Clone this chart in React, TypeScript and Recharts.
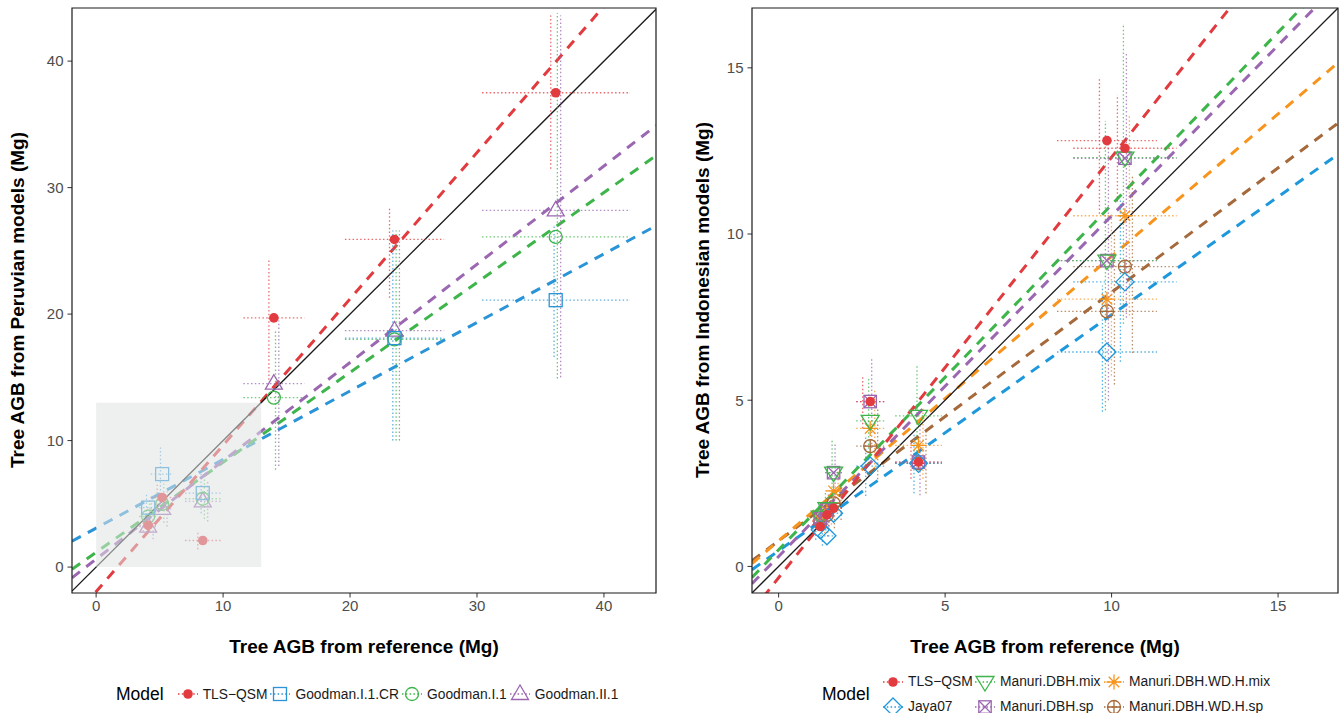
import React from 'react';
import { ComposedChart, Scatter, Line, XAxis, YAxis, ErrorBar, ReferenceArea } from 'recharts';

type Kind = 'dot' | 'square' | 'circle' | 'triangle' | 'diamond' | 'tridown' | 'squarex' | 'star' | 'circleplus';

// ---- Peruvian trees (left panel) ----
const peruRef = [4.1, 5.2, 8.4, 14.0, 23.5, 36.2];
const peruRefErr = [0.7, 0.9, 1.4, 2.4, 3.9, 5.8];

const peruTls = [3.3, 5.5, 2.1, 19.7, 25.9, 37.5];
const peruTlsErr = [[0.5, 0.6], [0.9, 1.0], [0.7, 0.7], [4.9, 4.7], [4.6, 2.5], [6.0, 6.1]];
const peruGoodmanCR = [4.7, 7.35, 5.85, null, 18.1, 21.1];
const peruGoodmanCRErr = [[1.2, 1.2], [2.2, 2.1], [1.6, 1.6], null, [8.1, 8.5], [4.5, 5.9]];
const peruGoodmanI1 = [4.0, 5.0, 5.4, 13.4, 18.0, 26.1];
const peruGoodmanI1Err = [[1.2, 1.3], [1.5, 1.6], [1.6, 1.7], [5.7, 5.3], [8.0, 8.6], [11.2, 17.7]];
const peruGoodmanII1 = [3.2, 4.6, 5.2, 14.5, 18.7, 28.2];
const peruGoodmanII1Err = [[1.0, 1.0], [1.4, 1.4], [1.6, 1.6], [6.5, 5.0], [8.7, 7.9], [13.2, 15.4]];

const peruNames = ['TLS−QSM', 'Goodman.I.1.CR', 'Goodman.I.1', 'Goodman.II.1'];
const peruColors = ['#E23B3F', '#2A94D6', '#3DB54A', '#9B67B1'];
const peruKinds: Kind[] = ['dot', 'square', 'circle', 'triangle'];
const peruIntercepts = [-1.94, 3.08, 1.17, 0.63];
const peruSlopes = [1.157, 0.542, 0.711, 0.777];
const peruTicks = [0, 10, 20, 30, 40];

// ---- Indonesian trees (right panel) ----
const indoRef = [1.25, 1.45, 1.65, 2.75, 4.2, 9.86, 10.4];
const indoRefErr = [0.2, 0.2, 0.25, 0.42, 0.7, 1.5, 1.55];

const indoTls = [1.2, 1.55, 1.75, 4.96, 3.14, 12.81, 12.58];
const indoTlsErr = [[0.2, 0.2], [0.2, 0.2], [0.3, 0.3], [0.8, 0.8], [0.5, 0.6], [2.2, 1.9], [1.6, 1.6]];
const indoJaya = [1.1, 0.92, 1.6, 3.02, 3.1, 6.45, 8.56];
const indoJayaErr = [[0.3, 0.3], [0.3, 0.3], [0.4, 0.4], [0.9, 0.9], [0.9, 0.9], [1.8, 2.0], [2.4, 2.5]];
const indoDbhMix = [1.5, 1.75, 2.82, 4.38, 4.53, 9.2, 12.3];
const indoDbhMixErr = [[0.4, 0.5], [0.5, 0.5], [0.8, 1.0], [1.3, 1.3], [1.3, 1.5], [4.5, 4.2], [5.0, 4.0]];
const indoDbhSp = [1.45, 1.7, 2.82, 4.96, 3.14, 9.2, 12.28];
const indoDbhSpErr = [[0.4, 0.5], [0.5, 0.5], [0.8, 0.9], [1.4, 1.3], [1.0, 1.2], [4.2, 3.8], [4.8, 3.2]];
const indoWdhMix = [1.4, 1.65, 2.27, 4.15, 3.64, 8.04, 10.55];
const indoWdhMixErr = [[0.4, 0.4], [0.4, 0.5], [0.6, 0.7], [1.2, 1.2], [1.0, 1.1], [2.3, 2.6], [3.0, 3.0]];
const indoWdhSp = [1.3, 1.55, 1.9, 3.62, 3.1, 7.67, 9.02];
const indoWdhSpErr = [[0.4, 0.4], [0.4, 0.4], [0.5, 0.6], [1.0, 1.1], [0.9, 1.0], [2.2, 2.4], [2.6, 2.7]];

const indoNames = ['TLS−QSM', 'Jaya07', 'Manuri.DBH.mix', 'Manuri.DBH.sp', 'Manuri.DBH.WD.H.mix', 'Manuri.DBH.WD.H.sp'];
const indoColors = ['#E23B3F', '#1E98DC', '#3DB54A', '#9B67B1', '#F7941D', '#A6693B'];
const indoKinds: Kind[] = ['dot', 'diamond', 'tridown', 'squarex', 'star', 'circleplus'];
const indoIntercepts = [-0.34, 0.47, 0.5, 0.3, 0.77, 0.77];
const indoSlopes = [1.265, 0.71, 1.038, 1.025, 0.856, 0.748];
const indoTicks = [0, 5, 10, 15];

const FONT = '"Liberation Sans", Arial, sans-serif';
const DOT_DASH = '1.5 2.3';

function Marker({ kind, cx, cy, color }: { kind: Kind; cx: number; cy: number; color: string }) {
  const st = { fill: 'none', stroke: color, strokeWidth: 1.3 };
  switch (kind) {
    case 'dot':
      return <circle cx={cx} cy={cy} r={4.8} fill={color} />;
    case 'square':
      return <rect x={cx - 6.5} y={cy - 6.5} width={13} height={13} {...st} />;
    case 'circle':
      return <circle cx={cx} cy={cy} r={6.5} {...st} />;
    case 'triangle':
      return <polygon points={`${cx},${cy - 9} ${cx - 8.5},${cy + 5.5} ${cx + 8.5},${cy + 5.5}`} {...st} />;
    case 'tridown':
      return <polygon points={`${cx - 9},${cy - 5.5} ${cx + 9},${cy - 5.5} ${cx},${cy + 9}`} {...st} />;
    case 'diamond':
      return <polygon points={`${cx},${cy - 9} ${cx + 9},${cy} ${cx},${cy + 9} ${cx - 9},${cy}`} {...st} />;
    case 'squarex': {
      const h = 6.2;
      return (
        <g {...st}>
          <rect x={cx - h} y={cy - h} width={2 * h} height={2 * h} />
          <path d={`M${cx - h},${cy - h}L${cx + h},${cy + h}M${cx - h},${cy + h}L${cx + h},${cy - h}`} />
        </g>
      );
    }
    case 'star': {
      const r = 7.5;
      const d = 5.3;
      return (
        <path
          d={`M${cx - r},${cy}H${cx + r}M${cx},${cy - r}V${cy + r}M${cx - d},${cy - d}L${cx + d},${cy + d}M${cx - d},${cy + d}L${cx + d},${cy - d}`}
          {...st}
        />
      );
    }
    case 'circleplus': {
      const r = 6.5;
      return (
        <g {...st}>
          <circle cx={cx} cy={cy} r={r} />
          <path d={`M${cx - r},${cy}H${cx + r}M${cx},${cy - r}V${cy + r}`} />
        </g>
      );
    }
  }
  return null;
}

interface Series {
  name: string;
  color: string;
  kind: Kind;
  points: { x: number; y: number; ex: number; ey: number[] }[];
  a: number;
  b: number;
}

function buildSeries(ref: number[], refErr: number[], preds: (number | null)[][], errs: (number[] | null)[][],
  names: string[], colors: string[], kinds: Kind[], intercepts: number[], slopes: number[]): Series[] {
  return names.map((name, k) => ({
    name,
    color: colors[k],
    kind: kinds[k],
    a: intercepts[k],
    b: slopes[k],
    points: ref
      .map((x, i) => ({ x, y: preds[k][i] as number, ex: refErr[i], ey: errs[k][i] as number[] }))
      .filter((p) => p.y != null),
  }));
}

const peruSeries = buildSeries(
  peruRef, peruRefErr,
  [peruTls, peruGoodmanCR, peruGoodmanI1, peruGoodmanII1],
  [peruTlsErr, peruGoodmanCRErr, peruGoodmanI1Err, peruGoodmanII1Err],
  peruNames, peruColors, peruKinds, peruIntercepts, peruSlopes,
);

const indoSeries = buildSeries(
  indoRef, indoRefErr,
  [indoTls, indoJaya, indoDbhMix, indoDbhSp, indoWdhMix, indoWdhSp],
  [indoTlsErr, indoJayaErr, indoDbhMixErr, indoDbhSpErr, indoWdhMixErr, indoWdhSpErr],
  indoNames, indoColors, indoKinds, indoIntercepts, indoSlopes,
);

interface PanelProps {
  width: number;
  yWidth: number;
  marginRight: number;
  xDomain: number[];
  yDomain: number[];
  ticks: number[];
  series: Series[];
  lineOrder: number[];
  dodgePx: number;
  zoomBox?: number[];
}

function Panel({ width, yWidth, marginRight, xDomain, yDomain, ticks, series, lineOrder, dodgePx, zoomBox }: PanelProps) {
  const [x0, x1] = xDomain;
  const tickStyle = { fill: '#4D4D4D', fontSize: 15, fontFamily: FONT };
  // vertical error bars of the models are dodged sideways a few pixels, like position_dodge in the original
  const unit = (x1 - x0) / (width - yWidth - marginRight);
  const n = series.length;
  return (
    <ComposedChart width={width} height={640} margin={{ top: 8, right: marginRight, bottom: 0, left: 0 }}>
      <XAxis type="number" dataKey="x" domain={xDomain} ticks={ticks} interval={0} allowDataOverflow
        height={47} axisLine={false} tickSize={4.5} tickMargin={3} tickLine={{ stroke: '#333' }} tick={tickStyle} />
      <YAxis type="number" dataKey="y" domain={yDomain} ticks={ticks} interval={0} allowDataOverflow
        width={yWidth} axisLine={false} tickSize={4.5} tickMargin={4} tickLine={{ stroke: '#333' }} tick={tickStyle} />
      {lineOrder.map((k) => {
        const s = series[k];
        return (
          <Line key={'fit' + k} data={[{ x: x0, y: s.a + s.b * x0 }, { x: x1, y: s.a + s.b * x1 }]} dataKey="y"
            type="linear" stroke={s.color} strokeWidth={3} strokeDasharray="10 8" dot={false} activeDot={false}
            isAnimationActive={false} legendType="none" />
        );
      })}
      <Line data={[{ x: x0, y: x0 }, { x: x1, y: x1 }]} dataKey="y" type="linear" stroke="#1A1A1A" strokeWidth={1.3}
        dot={false} activeDot={false} isAnimationActive={false} />
      {series.map((s, k) => {
        const dx = (k - (n - 1) / 2) * dodgePx * unit;
        return (
          <Scatter key={'ey' + s.name} data={s.points.map((p) => ({ ...p, x: p.x + dx }))} isAnimationActive={false}
            legendType="none" shape={() => <g />}>
            <ErrorBar dataKey="ey" direction="y" width={0} stroke={s.color} strokeWidth={1.3} strokeOpacity={0.75}
              strokeDasharray={DOT_DASH} isAnimationActive={false} />
          </Scatter>
        );
      })}
      {series.slice().reverse().map((s) => (
        <Scatter key={s.name} name={s.name} data={s.points} isAnimationActive={false}
          shape={(p: any) => <Marker kind={s.kind} cx={p.cx} cy={p.cy} color={s.color} />}>
          <ErrorBar dataKey="ex" direction="x" width={0} stroke={s.color} strokeWidth={1.3} strokeOpacity={0.75}
            strokeDasharray={DOT_DASH} isAnimationActive={false} />
        </Scatter>
      ))}
      {zoomBox && (
        <ReferenceArea x1={zoomBox[0]} x2={zoomBox[1]} y1={zoomBox[0]} y2={zoomBox[1]} fill="#E0E4E4"
          fillOpacity={0.55} stroke="none" ifOverflow="visible" zIndex={1500} />
      )}
      <ReferenceArea x1={xDomain[0]} x2={xDomain[1]} y1={yDomain[0]} y2={yDomain[1]} fill="none" fillOpacity={0}
        stroke="#1A1A1A" strokeWidth={1.2} ifOverflow="visible" zIndex={1600} />
    </ComposedChart>
  );
}

function Glyph({ kind, color }: { kind: Kind; color: string }) {
  return (
    <svg width={20} height={20} style={{ display: 'block', flex: 'none' }}>
      <line x1={0} x2={20} y1={10} y2={10} stroke={color} strokeWidth={1.3} strokeDasharray={DOT_DASH} />
      <Marker kind={kind} cx={10} cy={10} color={color} />
    </svg>
  );
}

const titleStyle: React.CSSProperties = {
  position: 'absolute', fontWeight: 'bold', fontSize: 19, lineHeight: '22px', textAlign: 'center', color: '#000',
};

export default function App() {
  return (
    <div style={{ position: 'absolute', left: 0, top: 0, width: 1344, height: 713, background: '#fff', fontFamily: FONT, overflow: 'hidden' }}>
      <div style={{ position: 'absolute', left: 0, top: 0 }}>
        <Panel width={672} yWidth={72} marginRight={16} xDomain={[-1.9, 44.1]} yDomain={[-2.05, 44.2]}
          ticks={peruTicks} series={peruSeries} lineOrder={[1, 2, 3, 0]} dodgePx={3.3} zoomBox={[0, 13]} />
      </div>
      <div style={{ position: 'absolute', left: 672, top: 0 }}>
        <Panel width={672} yWidth={80} marginRight={6} xDomain={[-0.8, 16.8]} yDomain={[-0.8, 16.8]}
          ticks={indoTicks} series={indoSeries} lineOrder={[1, 5, 4, 3, 2, 0]} dodgePx={3} />
      </div>

      <div style={{ ...titleStyle, left: 72, width: 584, top: 636 }}>Tree AGB from reference (Mg)</div>
      <div style={{ ...titleStyle, left: 752, width: 586, top: 636 }}>Tree AGB from reference (Mg)</div>
      <div style={{ ...titleStyle, left: 17 - 292, top: 300 - 11, width: 585, transform: 'rotate(-90deg)' }}>
        Tree AGB from Peruvian models (Mg)
      </div>
      <div style={{ ...titleStyle, left: 702 - 292, top: 300 - 11, width: 585, transform: 'rotate(-90deg)' }}>
        Tree AGB from Indonesian models (Mg)
      </div>

      {/* left legend */}
      <div style={{ position: 'absolute', left: 116, top: 682, height: 24, display: 'flex', alignItems: 'center', whiteSpace: 'nowrap' }}>
        <span style={{ fontSize: 17.5, marginRight: 14 }}>Model</span>
        {peruSeries.map((s) => (
          <div key={s.name} style={{ display: 'flex', alignItems: 'center', marginRight: 3 }}>
            <Glyph kind={s.kind} color={s.color} />
            <span style={{ fontSize: 13.8, marginLeft: 5, color: '#1A1A1A' }}>{s.name}</span>
          </div>
        ))}
      </div>

      {/* right legend */}
      <div style={{ position: 'absolute', left: 822, top: 682, height: 24, display: 'flex', alignItems: 'center' }}>
        <span style={{ fontSize: 17.5 }}>Model</span>
      </div>
      <div style={{ position: 'absolute', left: 883, top: 669, display: 'grid', gridTemplateColumns: '20px 72px 20px 109px 20px auto',
        gridTemplateRows: '25px 25px', alignItems: 'center', whiteSpace: 'nowrap' }}>
        {[0, 1, 2, 3, 4, 5].map((k) => {
          const s = indoSeries[k];
          const col = Math.floor(k / 2) * 2 + 1;
          const row = (k % 2) + 1;
          return (
            <React.Fragment key={s.name}>
              <div style={{ gridColumn: col, gridRow: row }}><Glyph kind={s.kind} color={s.color} /></div>
              <div style={{ gridColumn: col + 1, gridRow: row, fontSize: 13.8, paddingLeft: 5, color: '#1A1A1A' }}>{s.name}</div>
            </React.Fragment>
          );
        })}
      </div>
    </div>
  );
}
